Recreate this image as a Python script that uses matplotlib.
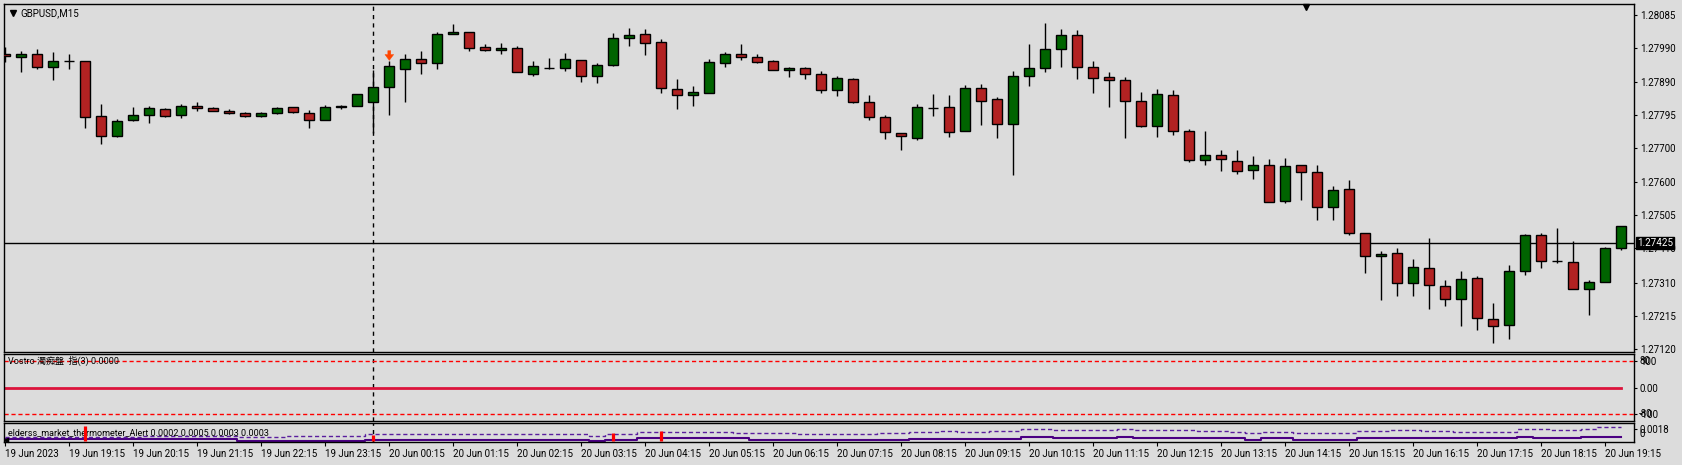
import matplotlib
matplotlib.use("Agg")
import matplotlib.pyplot as plt
import matplotlib.transforms as mtransforms
import numpy as np

# GBPUSD M15 bars, 19 Jun 18:15 .. 20 Jun 19:30
opens = [
    1.27971, 1.27962, 1.27971, 1.27933, 1.27950, 1.27950, 1.27791, 1.27734, 1.27782, 1.27794,
    1.27812, 1.27794, 1.27820, 1.27814, 1.27808, 1.27802, 1.27791, 1.27802, 1.27817, 1.27802,
    1.27782, 1.27817, 1.27820, 1.27834, 1.27877, 1.27927, 1.27956, 1.27944, 1.28029, 1.28034,
    1.27991, 1.27982, 1.27988, 1.27915, 1.27931, 1.27930, 1.27953, 1.27908, 1.27941, 1.28017,
    1.28029, 1.28005, 1.27869, 1.27852, 1.27860, 1.27944, 1.27971, 1.27962, 1.27950, 1.27924,
    1.27930, 1.27913, 1.27866, 1.27898, 1.27834, 1.27788, 1.27744, 1.27730, 1.27816, 1.27817,
    1.27750, 1.27872, 1.27840, 1.27768, 1.27908, 1.27930, 1.27985, 1.28026, 1.27933, 1.27904,
    1.27895, 1.27837, 1.27763, 1.27852, 1.27750, 1.27666, 1.27680, 1.27663, 1.27637, 1.27651,
    1.27547, 1.27651, 1.27631, 1.27530, 1.27582, 1.27454, 1.27388, 1.27396, 1.27309, 1.27353,
    1.27301, 1.27263, 1.27324, 1.27205, 1.27188, 1.27344, 1.27449, 1.27373, 1.27370, 1.27292,
    1.27312, 1.27411,
]
highs = [
    1.27992, 1.27980, 1.27986, 1.27978, 1.27971, 1.27950, 1.27826, 1.27785, 1.27818, 1.27821,
    1.27814, 1.27826, 1.27832, 1.27817, 1.27813, 1.27805, 1.27805, 1.27817, 1.27819, 1.27809,
    1.27824, 1.27824, 1.27857, 1.27924, 1.27950, 1.27971, 1.27980, 1.28034, 1.28058, 1.28034,
    1.28000, 1.28003, 1.27995, 1.27951, 1.27960, 1.27974, 1.27953, 1.27945, 1.28032, 1.28047,
    1.28044, 1.28014, 1.27899, 1.27878, 1.27956, 1.27976, 1.28000, 1.27971, 1.27953, 1.27933,
    1.27933, 1.27921, 1.27907, 1.27901, 1.27852, 1.27794, 1.27744, 1.27826, 1.27857, 1.27852,
    1.27881, 1.27884, 1.27846, 1.27921, 1.28000, 1.28060, 1.28043, 1.28040, 1.27950, 1.27918,
    1.27904, 1.27863, 1.27869, 1.27866, 1.27756, 1.27750, 1.27695, 1.27695, 1.27678, 1.27669,
    1.27672, 1.27651, 1.27651, 1.27591, 1.27608, 1.27454, 1.27402, 1.27411, 1.27379, 1.27440,
    1.27318, 1.27344, 1.27330, 1.27251, 1.27362, 1.27451, 1.27454, 1.27469, 1.27431, 1.27318,
    1.27414, 1.27475,
]
lows = [
    1.27948, 1.27920, 1.27927, 1.27896, 1.27929, 1.27758, 1.27710, 1.27731, 1.27778, 1.27772,
    1.27788, 1.27787, 1.27807, 1.27806, 1.27799, 1.27788, 1.27788, 1.27797, 1.27801, 1.27758,
    1.27780, 1.27813, 1.27820, 1.27743, 1.27795, 1.27833, 1.27914, 1.27929, 1.28029, 1.27981,
    1.27980, 1.27972, 1.27918, 1.27908, 1.27929, 1.27923, 1.27891, 1.27888, 1.27937, 1.27995,
    1.27969, 1.27859, 1.27813, 1.27821, 1.27860, 1.27935, 1.27953, 1.27944, 1.27924, 1.27906,
    1.27900, 1.27860, 1.27851, 1.27830, 1.27782, 1.27727, 1.27695, 1.27723, 1.27792, 1.27732,
    1.27750, 1.27766, 1.27729, 1.27621, 1.27880, 1.27920, 1.27935, 1.27900, 1.27859, 1.27819,
    1.27729, 1.27761, 1.27732, 1.27737, 1.27659, 1.27650, 1.27633, 1.27624, 1.27610, 1.27544,
    1.27541, 1.27549, 1.27492, 1.27492, 1.27449, 1.27337, 1.27260, 1.27272, 1.27272, 1.27234,
    1.27243, 1.27185, 1.27173, 1.27135, 1.27147, 1.27333, 1.27353, 1.27367, 1.27292, 1.27216,
    1.27312, 1.27405,
]
closes = [
    1.27965, 1.27971, 1.27933, 1.27950, 1.27950, 1.27790, 1.27734, 1.27779, 1.27794, 1.27814,
    1.27791, 1.27820, 1.27814, 1.27808, 1.27802, 1.27791, 1.27802, 1.27814, 1.27805, 1.27782,
    1.27817, 1.27820, 1.27857, 1.27875, 1.27936, 1.27956, 1.27944, 1.28029, 1.28034, 1.27990,
    1.27982, 1.27988, 1.27918, 1.27936, 1.27931, 1.27956, 1.27908, 1.27941, 1.28017, 1.28026,
    1.28002, 1.27872, 1.27852, 1.27863, 1.27947, 1.27971, 1.27962, 1.27947, 1.27924, 1.27930,
    1.27913, 1.27866, 1.27901, 1.27834, 1.27788, 1.27747, 1.27733, 1.27817, 1.27816, 1.27747,
    1.27872, 1.27837, 1.27768, 1.27907, 1.27930, 1.27985, 1.28026, 1.27933, 1.27901, 1.27895,
    1.27837, 1.27763, 1.27855, 1.27750, 1.27665, 1.27680, 1.27669, 1.27634, 1.27651, 1.27544,
    1.27649, 1.27631, 1.27530, 1.27579, 1.27454, 1.27388, 1.27393, 1.27309, 1.27356, 1.27304,
    1.27263, 1.27321, 1.27208, 1.27185, 1.27344, 1.27449, 1.27373, 1.27373, 1.27292, 1.27312,
    1.27411, 1.27475,
]

# elderss thermometer (solid) and its signal (dashed)
therm = [
    0.00037, 0.00037, 0.00037, 0.00037, 0.00037, 0.00037, 0.00037, 0.00037, 0.00037, 0.00045,
    0.00045, 0.00045, 0.00045, 0.00045, 0.00045, 0.00018, 0.00018, 0.00018, 0.00018, 0.00018,
    0.00018, 0.00018, 0.00018, 0.00032, 0.00032, 0.00032, 0.00032, 0.00032, 0.00032, 0.00032,
    0.00032, 0.00032, 0.00032, 0.00032, 0.00032, 0.00032, 0.00032, 0.00010, 0.00027, 0.00027,
    0.00048, 0.00048, 0.00048, 0.00048, 0.00048, 0.00048, 0.00048, 0.00032, 0.00032, 0.00032,
    0.00032, 0.00032, 0.00032, 0.00032, 0.00032, 0.00032, 0.00032, 0.00045, 0.00045, 0.00045,
    0.00045, 0.00045, 0.00045, 0.00045, 0.00068, 0.00068, 0.00050, 0.00050, 0.00050, 0.00050,
    0.00068, 0.00050, 0.00050, 0.00050, 0.00050, 0.00050, 0.00050, 0.00050, 0.00032, 0.00050,
    0.00050, 0.00032, 0.00032, 0.00032, 0.00032, 0.00050, 0.00050, 0.00050, 0.00050, 0.00050,
    0.00050, 0.00050, 0.00050, 0.00050, 0.00050, 0.00068, 0.00050, 0.00050, 0.00050, 0.00068,
    0.00068, 0.00068,
]
therm_signal = [
    0.00073, 0.00073, 0.00073, 0.00073, 0.00068, 0.00068, 0.00068, 0.00068, 0.00068, 0.00082,
    0.00082, 0.00082, 0.00082, 0.00082, 0.00082, 0.00073, 0.00073, 0.00073, 0.00087, 0.00087,
    0.00087, 0.00087, 0.00087, 0.00110, 0.00110, 0.00110, 0.00110, 0.00110, 0.00110, 0.00110,
    0.00110, 0.00110, 0.00110, 0.00110, 0.00110, 0.00110, 0.00110, 0.00087, 0.00105, 0.00105,
    0.00133, 0.00133, 0.00133, 0.00133, 0.00133, 0.00133, 0.00119, 0.00119, 0.00119, 0.00119,
    0.00105, 0.00105, 0.00105, 0.00105, 0.00105, 0.00119, 0.00119, 0.00133, 0.00133, 0.00146,
    0.00133, 0.00133, 0.00150, 0.00150, 0.00174, 0.00174, 0.00160, 0.00160, 0.00160, 0.00160,
    0.00174, 0.00160, 0.00160, 0.00160, 0.00160, 0.00146, 0.00146, 0.00133, 0.00119, 0.00133,
    0.00133, 0.00119, 0.00119, 0.00119, 0.00119, 0.00146, 0.00146, 0.00160, 0.00160, 0.00146,
    0.00146, 0.00133, 0.00133, 0.00133, 0.00133, 0.00174, 0.00174, 0.00160, 0.00160, 0.00174,
    0.00200, 0.00200,
]
alert_bars = [5, 23, 38, 41]
alert_vals = [0.00223, 0.00096, 0.00127, 0.00155]

price_ticks = [1.28085, 1.27990, 1.27890, 1.27795, 1.27700, 1.27600,
               1.27505, 1.27410, 1.27310, 1.27215, 1.27120]
hline_price = 1.27425
arrow_bar = 24
arrow_price = 1.27953
separator_bar = 23

time_labels = ["19 Jun 2023", "19 Jun 19:15", "19 Jun 20:15", "19 Jun 21:15",
               "19 Jun 22:15", "19 Jun 23:15"] + \
              ["20 Jun %02d:15" % h for h in range(0, 20)]
time_tick_bars = list(range(0, 101, 4))

W, H = 1682, 465
BG = "#DCDCDC"
BULL = "#006400"
BEAR = "#B22222"
FONT = "Roboto"
plt.rcParams["font.family"] = [FONT, "DejaVu Sans"]
plt.rcParams["font.size"] = 7

fig = plt.figure(figsize=(W / 100, H / 100), dpi=100, facecolor=BG)


def px_axes(x0, y0, x1, y1):
    a = fig.add_axes([x0 / W, 1 - y1 / H, (x1 - x0) / W, (y1 - y0) / H])
    a.set_facecolor(BG)
    for s in a.spines.values():
        s.set_color("black")
        s.set_linewidth(1)
    a.set_xlim(-0.08, 101.79)
    a.tick_params(axis="x", bottom=False, labelbottom=False)
    a.yaxis.tick_right()
    a.tick_params(axis="y", direction="out", length=2.2, width=0.8, pad=2,
                  labelsize=7, colors="black")
    return a


ax = px_axes(4, 4, 1634, 352)
ax1 = px_axes(4, 354, 1634, 421)
ax2 = px_axes(4, 423, 1634, 442)

o = np.array(opens)
c = np.array(closes)
x = np.arange(len(o))

# candles
ax.vlines(x, lows, highs, color="black", lw=1, zorder=2)
body_col = [BULL if cc > oo else (BEAR if cc < oo else "black") for oo, cc in zip(o, c)]
ax.bar(x, np.abs(c - o), bottom=np.minimum(o, c), width=0.62, color=body_col,
       edgecolor="black", linewidth=1, zorder=3)

ax.set_ylim(1.27110, 1.28116)
ax.set_yticks(price_ticks, ["%.5f" % p for p in price_ticks])
ax.axhline(hline_price, color="black", lw=1, zorder=1)
ax.text(1 + 3 / 1630, hline_price, "1.27425", color="white", fontsize=7,
        ha="left", va="center",
        transform=mtransforms.blended_transform_factory(ax.transAxes, ax.transData),
        bbox=dict(boxstyle="square,pad=0.12", fc="black", ec="black"), zorder=10,
        clip_on=False)

# sell arrow above the first bar of the day
ax.annotate("", xy=(arrow_bar, arrow_price), xytext=(0, 7), textcoords="offset points",
            arrowprops=dict(arrowstyle="simple,head_width=0.9,head_length=0.6,tail_width=0.3",
                            fc="#FF4500", ec="#FF4500", lw=0.3, shrinkA=0, shrinkB=0),
            zorder=5)

# symbol caption + shift marker
ax.plot([9 / 1630], [1 - 9 / 348], marker="v", color="black", ms=4,
        transform=ax.transAxes, clip_on=False)
ax.text(16 / 1630, 1 - 9 / 348, "GBPUSD,M15", transform=ax.transAxes,
        ha="left", va="center", fontsize=7)
ax.plot([0.7988], [1 - 3 / 348], marker="v", color="black", ms=5,
        transform=ax.transAxes, clip_on=False)

# Vostro subwindow
vostro = np.zeros(len(o))  # reads 0.0000 on every bar
ax1.set_ylim(-126, 126)
ax1.axhline(100, color="red", lw=1, ls=(0, (3, 2)))
ax1.axhline(-100, color="red", lw=1, ls=(0, (3, 2)))
ax1.plot(x, vostro, color="#DC143C", lw=2)
ax1.set_yticks([100, 0, -100], ["100", "0.00", "-100"])
yt = mtransforms.blended_transform_factory(ax1.transAxes, ax1.transData)
ax1.text(1 + 5.2 / 1630, 100, "80", transform=yt, ha="left", va="center", fontsize=7)
ax1.text(1 + 5.2 / 1630, -100, "-80", transform=yt, ha="left", va="center", fontsize=7)
ax1.text(4 / 1630, 100, "Vostro 濁痴盤  指(3) 0.0000", transform=yt, ha="left",
         va="center", fontsize=6.5, family=[FONT, "Noto Sans CJK SC", "DejaVu Sans"])

# thermometer subwindow
ax2.set_ylim(0, 0.0026)
ax2.step(x, therm, where="mid", color="#4B0082", lw=1.5)
ax2.step(x, therm_signal, where="mid", color="#5A1E9E", lw=1, ls=(0, (3, 2)))
ax2.vlines(alert_bars, 0.0002, alert_vals, color="red", lw=2.3, zorder=4)
ax2.set_yticks([0.0018], ["0.0018"])
ax2.text(1 + 5.2 / 1630, 0.0011, "0", transform=mtransforms.blended_transform_factory(
    ax2.transAxes, ax2.transData), ha="left", va="center", fontsize=7)
ax2.text(4 / 1630, 0.0013, "elderss_market_thermometer_Alert 0.0002 0.0005 0.0003 0.0003",
         transform=mtransforms.blended_transform_factory(ax2.transAxes, ax2.transData),
         ha="left", va="center", fontsize=6.5)
ax2.plot([1.5 / 1630], [0.12], marker="<", color="black", ms=3,
         transform=ax2.transAxes, clip_on=False)

ax2.tick_params(axis="x", bottom=True, labelbottom=True, direction="out",
                length=3, width=0.8, pad=2, labelsize=7)
ax2.set_xticks(time_tick_bars, time_labels)
for lbl in ax2.get_xticklabels():
    lbl.set_horizontalalignment("left")

# day separator across all windows
for a in (ax, ax1, ax2):
    a.axvline(separator_bar, color="black", lw=1, ls=(0, (3, 3)), zorder=1)

fig.savefig("out.png", dpi=100, facecolor=BG)
